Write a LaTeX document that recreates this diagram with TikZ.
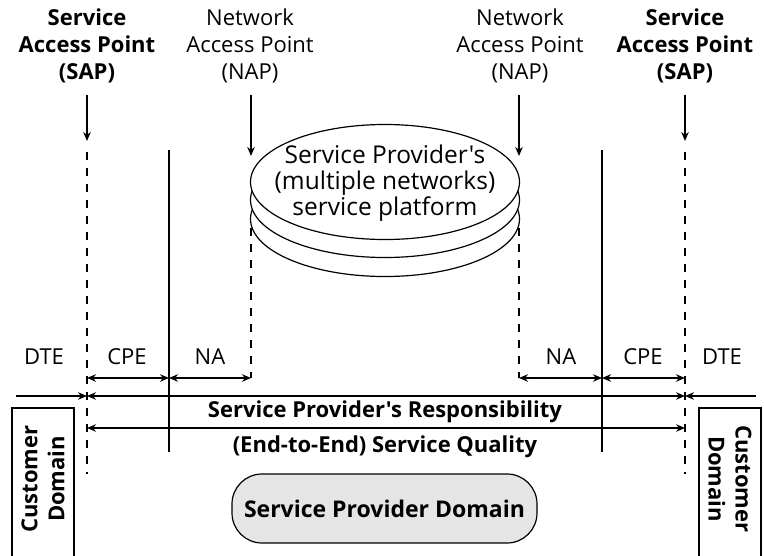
\documentclass[tikz,border=0pt]{standalone}
\usepackage{fontspec}
% family declared with \newfontfamily so that ' stays a straight apostrophe
\newfontfamily\osans{Open Sans}
\usetikzlibrary{arrows.meta,shapes.geometric}

\tikzset{
  ln/.style={line width=1.2pt},
  tip/.style={-{Stealth[length=9pt,width=7.5pt]}},
  dtip/.style={{Stealth[length=9pt,width=7.5pt]}-{Stealth[length=9pt,width=7.5pt]}},
  dashln/.style={line width=1.1pt,dash pattern=on 8pt off 8pt},
  lbl/.style={align=center,font=\osans\fontsize{22}{27}\selectfont,inner sep=0pt},
  blbl/.style={lbl,font=\osans\fontsize{22}{27}\selectfont\bfseries},
  disc/.style={ellipse,draw,ln,fill=white,minimum width=269pt,minimum height=115pt,inner sep=0pt},
}

\begin{document}
\begin{tikzpicture}[x=1pt,y=-1pt]
\useasboundingbox (0,0) rectangle (764,555);
\clip (0,0) rectangle (764,555);

% access point labels
\node[blbl] (sapL) at (87,46) {Service\\Access Point\\(SAP)};
\node[lbl]  (napL) at (250,46) {Network\\Access Point\\(NAP)};
\node[lbl]  (napR) at (520,46) {Network\\Access Point\\(NAP)};
\node[blbl] (sapR) at (685,46) {Service\\Access Point\\(SAP)};

\coordinate (sapLtip) at (87,141);
\coordinate (napLtip) at (251,156);
\coordinate (napRtip) at (519,156);
\coordinate (sapRtip) at (685,141);
\draw[ln,tip] (87,95) -- (sapLtip);
\draw[ln,tip] (251,95) -- (napLtip);
\draw[ln,tip] (519,95) -- (napRtip);
\draw[ln,tip] (685,95) -- (sapRtip);

% stacked network platform
\node[disc] (d3) at (385,219) {};
\node[disc] (d2) at (385,200) {};
\node[disc] (d1) at (385,182) {};
\node[lbl,font=\osans\fontsize{24.5}{26}\selectfont] (plat) at (385,183) {Service Provider's\\(multiple networks)\\service platform};

% boundary lines
\coordinate (sapLtop) at (87,152);
\coordinate (sapLbot) at (87,474);
\coordinate (sapRtop) at (685,152);
\coordinate (sapRbot) at (685,474);
\coordinate (cpeLtop) at (169,150);
\coordinate (cpeLbot) at (169,452);
\coordinate (cpeRtop) at (602,150);
\coordinate (cpeRbot) at (602,452);
\coordinate (naLtop) at (251,228);
\coordinate (naLbot) at (251,378);
\coordinate (naRtop) at (519,228);
\coordinate (naRbot) at (519,378);
\draw[dashln] (sapLtop) -- (sapLbot);
\draw[dashln] (sapRtop) -- (sapRbot);
\draw[dashln] (naLtop) -- (naLbot);
\draw[dashln] (naRtop) -- (naRbot);
\draw[ln] (cpeLtop) -- (cpeLbot);
\draw[ln] (cpeRtop) -- (cpeRbot);

% segment labels
\node[lbl] (dteL) at (44,357) {DTE};
\node[lbl] (cpeL) at (127,357) {CPE};
\node[lbl] (naL)  at (210,357) {NA};
\node[lbl] (naR)  at (561,357) {NA};
\node[lbl] (cpeR) at (643,357) {CPE};
\node[lbl] (dteR) at (722,357) {DTE};

% segment spans
\coordinate (a1) at (87,378);
\coordinate (a2) at (169,378);
\coordinate (a3) at (251,378);
\coordinate (a4) at (519,378);
\coordinate (a5) at (602,378);
\coordinate (a6) at (685,378);
\draw[ln,dtip] (a1) -- (a2);
\draw[ln,dtip] (a2) -- (a3);
\draw[ln,dtip] (a4) -- (a5);
\draw[ln,dtip] (a5) -- (a6);

% responsibility and quality spans
\coordinate (r0) at (16,396);
\coordinate (r1) at (87,396);
\coordinate (r2) at (685,396);
\coordinate (r3) at (756,396);
\draw[ln,tip] (r0) -- (r1);
\draw[ln,dtip] (r1) -- (r2);
\draw[ln,tip] (r3) -- (r2);
\node[blbl] (resp) at (385,412) {Service Provider's Responsibility};
\coordinate (q1) at (87,428);
\coordinate (q2) at (685,428);
\draw[ln,dtip] (q1) -- (q2);
\node[blbl] (qual) at (385,447) {(End-to-End) Service Quality};

% customer domains
\draw[ln] (12,600) |- (74,408) -- (74,600);
\node[blbl,rotate=90] (custL) at (43,479) {Customer\\Domain};
\draw[ln] (699,600) |- (761,408) -- (761,600);
\node[blbl,rotate=-90] (custR) at (730,479) {Customer\\Domain};

% provider domain
\node[draw,ln,fill=black!10,rounded corners=30pt,minimum width=305pt,minimum height=69pt,blbl,font=\osans\fontsize{23}{27}\selectfont\bfseries] (spd) at (384.5,508.5) {Service Provider Domain};
\end{tikzpicture}
\end{document}
